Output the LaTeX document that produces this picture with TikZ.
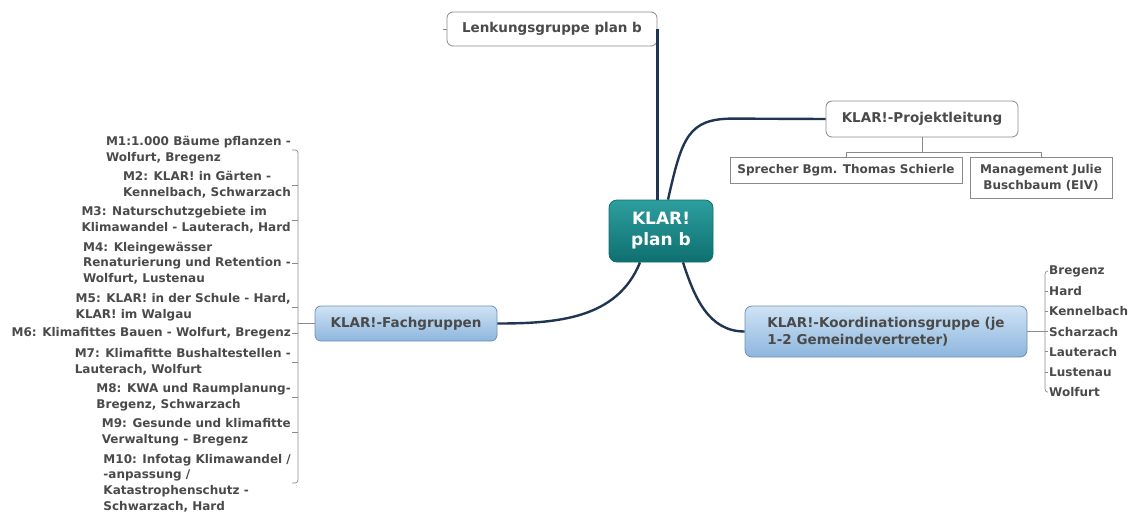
\documentclass[tikz,border=0pt]{standalone}
\usepackage[rgb]{xcolor}
\usepackage{fontspec}
\setmainfont{DejaVu Sans}
\usepackage{tikz}

\definecolor{navy}{HTML}{1F3552}
\definecolor{txtgrey}{HTML}{4A4A4A}
\definecolor{boxline}{HTML}{8A8A8A}
\definecolor{bluetop}{HTML}{CFE3F4}
\definecolor{bluebot}{HTML}{8DB6DE}
\definecolor{blueline}{HTML}{6F8FB5}
\definecolor{tealtop}{HTML}{2E9E9E}
\definecolor{tealbot}{HTML}{0E6F70}

\begin{document}
\begin{tikzpicture}[x=1pt, y=-1pt,
  every node/.style={font=\bfseries, text=txtgrey},
  topic/.style={draw=boxline, fill=white, rounded corners=6pt, line width=0.8pt},
  subbox/.style={draw=boxline, fill=white, line width=0.8pt},
  bluebox/.style={draw=blueline, rounded corners=7pt, line width=0.8pt,
    top color=bluetop, bottom color=bluebot},
  branch/.style={draw=navy, line width=2.4pt},
  twig/.style={draw=boxline, line width=0.7pt},
  item/.style={font=\bfseries\fontsize{12}{15.6}\selectfont, align=left, inner sep=1pt}
]
\useasboundingbox (0,0) rectangle (1131,512);

% central topic
\node[draw=tealbot, rounded corners=8pt, line width=0.8pt,
  top color=tealtop, bottom color=tealbot, minimum width=104pt, minimum height=62pt,
  align=center, text=white, font=\bfseries\fontsize{17}{21}\selectfont]
  (klar) at (661,231) {KLAR!\\plan b};

% main topics
\node[topic, minimum width=210pt, minimum height=34pt, font=\bfseries\fontsize{13.5}{16}\selectfont]
  (lenk) at (552,29) {Lenkungsgruppe plan b};
\node[topic, minimum width=192pt, minimum height=36pt, font=\bfseries\fontsize{13.5}{16}\selectfont]
  (proj) at (922,119) {KLAR!-Projektleitung};
\node[bluebox, minimum width=282pt, minimum height=51pt, align=left,
  font=\bfseries\fontsize{13.5}{17}\selectfont]
  (koord) at (886,331.5) {KLAR!-Koordinationsgruppe (je\\1-2 Gemeindevertreter)};
\node[bluebox, rounded corners=6pt, minimum width=182pt, minimum height=35pt,
  font=\bfseries\fontsize{13.5}{16}\selectfont]
  (fach) at (406,323.5) {KLAR!-Fachgruppen};

% sub topics of Projektleitung
\node[subbox, minimum width=232pt, minimum height=26pt, font=\bfseries\fontsize{12}{15}\selectfont]
  (sprecher) at (846,170) {Sprecher Bgm. Thomas Schierle};
\node[subbox, minimum width=142pt, minimum height=41pt, align=center,
  font=\bfseries\fontsize{12}{16}\selectfont]
  (mgmt) at (1041,177.5) {Management Julie\\Buschbaum (EIV)};

% thick branches from the centre
\draw[branch] (lenk.east |- klar.north) -- (lenk.east);
\draw[branch] ([xshift=7pt]klar.north) .. controls +(14,-62) and +(-45,0) .. ++(65,-81)
  -- (proj.west);
\draw[branch] ([xshift=22pt]klar.south) to[out=-72, in=180] (koord.west);
\draw[branch] ([xshift=-21pt]klar.south) to[out=-112, in=0] (fach.east);

\draw[twig] (lenk.west) -- ++(-4,0);

% Projektleitung -> members
\draw[twig] (proj.south) -- ++(0,15) coordinate (pj);
\draw[twig] (sprecher.north) |- (pj) -| (mgmt.north);

% Koordinationsgruppe -> towns
\coordinate (kbr) at (1045,331.5);
\foreach \town [count=\i] in {Bregenz, Hard, Kennelbach, Scharzach, Lauterach, Lustenau, Wolfurt}
  \node[item, anchor=west] (t\i) at (1048, 271+20.2*\i-20.2) {\town};
\draw[twig] (koord.east) -- (kbr);
\draw[twig, rounded corners=3pt] (t1.west) -| (kbr) |- (t7.west);
\foreach \i in {2,...,6}
  \draw[twig] (t\i.west) -- (t\i.west -| kbr);

% Fachgruppen -> measures
\node[item, anchor=east] (m1) at (292,150) {M1:1.000 Bäume pflanzen -\\Wolfurt, Bregenz};
\node[item, anchor=east] (m2) at (292,185) {M2: KLAR! in Gärten -\\Kennelbach, Schwarzach};
\node[item, anchor=east] (m3) at (292,220) {M3: Naturschutzgebiete im\\Klimawandel - Lauterach, Hard};
\node[item, anchor=east] (m4) at (292,263) {M4: Kleingewässer\\Renaturierung und Retention -\\Wolfurt, Lustenau};
\node[item, anchor=east] (m5) at (292,307) {M5: KLAR! in der Schule - Hard,\\KLAR! im Walgau};
\node[item, anchor=east] (m6) at (292,333) {M6: Klimafittes Bauen - Wolfurt, Bregenz};
\node[item, anchor=east] (m7) at (292,362) {M7: Klimafitte Bushaltestellen -\\Lauterach, Wolfurt};
\node[item, anchor=east] (m8) at (292,397) {M8: KWA und Raumplanung-\\Bregenz, Schwarzach};
\node[item, anchor=east] (m9) at (292,432) {M9: Gesunde und klimafitte\\Verwaltung - Bregenz};
\node[item, anchor=east] (m10) at (292,483) {M10: Infotag Klimawandel /\\-anpassung /\\Katastrophenschutz -\\Schwarzach, Hard};

\coordinate (fbr) at (298,323.5);
\draw[twig] (fach.west) -- (fbr);
\draw[twig, rounded corners=3pt] (m1.east) -| (fbr) |- (m10.east);
\foreach \i in {2,...,9}
  \draw[twig] (m\i.east) -- (m\i.east -| fbr);

\end{tikzpicture}
\end{document}
